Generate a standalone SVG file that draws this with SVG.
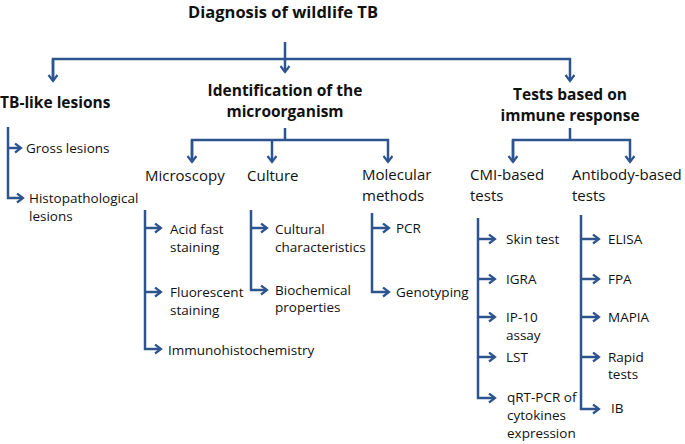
<svg xmlns="http://www.w3.org/2000/svg" width="685" height="444" viewBox="0 0 685 444">
<style>
text{font-family:"Open Sans","Liberation Sans",sans-serif;font-size:13.5px;fill:#111}
.b{font-weight:bold;font-size:15.5px}
.m{font-size:15px}
.c{text-anchor:middle}
path{fill:none;stroke:#2e5490;stroke-width:2.5}
</style>
<defs><marker id="a" markerWidth="10" markerHeight="12" refX="7" refY="5" orient="auto" markerUnits="userSpaceOnUse"><path d="M1,0.5 L7,5 L1,9.5" style="stroke-width:2.2"/></marker></defs>
<g id="title"><text class="b c" x="283" y="18" style="font-size:16.5px">Diagnosis of wildlife TB</text></g>
<g id="connectors">
<path d="M285,42V72" marker-end="url(#a)"/>
<path d="M53,81V59H570V81" marker-end="url(#a)"/>
<path d="M53,59V81" marker-end="url(#a)"/>
<path d="M8,127V198H23" marker-end="url(#a)"/>
<path d="M8,148H21" marker-end="url(#a)"/>
<path d="M285,128V140"/>
<path d="M192,162V140H388V162" marker-end="url(#a)"/>
<path d="M192,140V162" marker-end="url(#a)"/>
<path d="M272,140V162" marker-end="url(#a)"/>
<path d="M145,210V349H161" marker-end="url(#a)"/>
<path d="M145,228H161" marker-end="url(#a)"/>
<path d="M145,292H161" marker-end="url(#a)"/>
<path d="M251,210V290H267" marker-end="url(#a)"/>
<path d="M251,228H267" marker-end="url(#a)"/>
<path d="M372,213V292H389" marker-end="url(#a)"/>
<path d="M372,228H389" marker-end="url(#a)"/>
<path d="M570,128V140"/>
<path d="M513,162V140H630V162" marker-end="url(#a)"/>
<path d="M513,140V162" marker-end="url(#a)"/>
<path d="M478,218V398H495" marker-end="url(#a)"/>
<path d="M478,239H495" marker-end="url(#a)"/>
<path d="M478,279H495" marker-end="url(#a)"/>
<path d="M478,317H495" marker-end="url(#a)"/>
<path d="M478,357H495" marker-end="url(#a)"/>
<path d="M581,215V409H599" marker-end="url(#a)"/>
<path d="M581,239H599" marker-end="url(#a)"/>
<path d="M581,279H599" marker-end="url(#a)"/>
<path d="M581,317H599" marker-end="url(#a)"/>
<path d="M581,357H599" marker-end="url(#a)"/>
</g>
<g id="tblike"><text class="b" x="0" y="108">TB-like lesions</text></g>
<g id="gross"><text x="26" y="153">Gross lesions</text></g>
<g id="histo"><text x="29" y="203">Histopathological</text><text x="29" y="221">lesions</text></g>
<g id="ident"><text class="b c" x="285" y="96">Identification of the</text><text class="b c" x="285" y="117">microorganism</text></g>
<g id="immune"><text class="b c" x="570" y="100">Tests based on</text><text class="b c" x="570" y="121">immune response</text></g>
<g id="microscopy"><text class="m" x="145" y="181">Microscopy</text></g>
<g id="culture"><text class="m" x="247" y="181">Culture</text></g>
<g id="molecular"><text class="m" x="362" y="180">Molecular</text><text class="m" x="362" y="201">methods</text></g>
<g id="acid"><text x="170" y="234">Acid fast</text><text x="170" y="252">staining</text></g>
<g id="fluor"><text x="170" y="297">Fluorescent</text><text x="170" y="315">staining</text></g>
<g id="ihc"><text x="168" y="355">Immunohistochemistry</text></g>
<g id="cultural"><text x="275" y="234">Cultural</text><text x="275" y="252">characteristics</text></g>
<g id="bioch"><text x="275" y="295">Biochemical</text><text x="275" y="312">properties</text></g>
<g id="pcr"><text x="396" y="233">PCR</text></g>
<g id="geno"><text x="396" y="297">Genotyping</text></g>
<g id="cmi"><text class="m" x="470" y="180">CMI-based</text><text class="m" x="470" y="201">tests</text></g>
<g id="ab"><text class="m" x="572" y="180">Antibody-based</text><text class="m" x="572" y="201">tests</text></g>
<g id="skin"><text x="506" y="244">Skin test</text></g>
<g id="igra"><text x="506" y="284">IGRA</text></g>
<g id="ip10"><text x="506" y="322">IP-10</text><text x="506" y="340">assay</text></g>
<g id="lst"><text x="506" y="362">LST</text></g>
<g id="qrt"><text x="507" y="402">qRT-PCR of</text><text x="507" y="420">cytokines</text><text x="507" y="438">expression</text></g>
<g id="elisa"><text x="608" y="244">ELISA</text></g>
<g id="fpa"><text x="608" y="284">FPA</text></g>
<g id="mapia"><text x="608" y="322">MAPIA</text></g>
<g id="rapid"><text x="608" y="362">Rapid</text><text x="608" y="379">tests</text></g>
<g id="ib"><text x="611" y="413">IB</text></g>
</svg>
